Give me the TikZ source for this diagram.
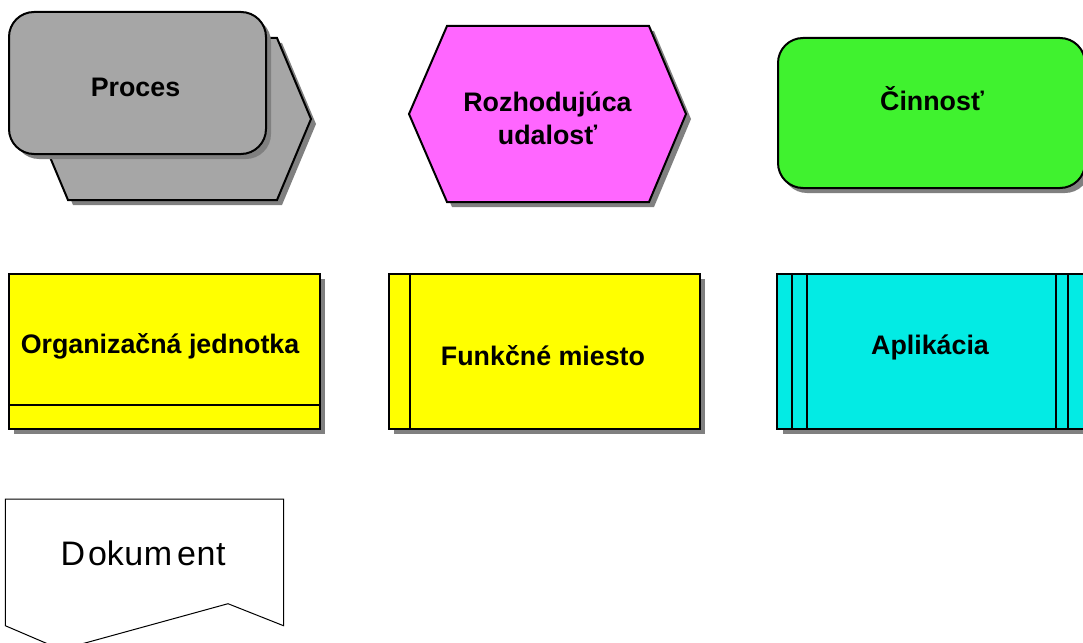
\documentclass[tikz,border=0pt]{standalone}
\usepackage{fontspec}
\setmainfont{Liberation Sans}
\tikzset{
  shape box/.style={draw=black,line width=2pt,line join=miter},
  shadow fill/.style={fill=shadowgray,draw=none},
  label text/.style={font=\fontsize{26.8}{33}\selectfont\bfseries,align=center,inner sep=0pt,text=black},
}
\definecolor{shadowgray}{HTML}{808080}
\definecolor{procgray}{HTML}{A6A6A6}
\definecolor{evmag}{HTML}{FF66FF}
\definecolor{actgreen}{HTML}{40F22F}
\definecolor{orgyellow}{HTML}{FFFF00}
\definecolor{appcyan}{HTML}{03EBE4}
\begin{document}
\begin{tikzpicture}[x=1pt,y=-1pt]
\useasboundingbox (0,0) rectangle (1083,642);
\fill[white] (0,0) rectangle (1083,642);
\clip (0,0) rectangle (1083,642);
% Proces
\fill[shadow fill] (73,43)--(282,43)--(316,124)--(282,205)--(73,205)--(39,124)--cycle;
\path[shape box,fill=procgray] (68,38)--(277,38)--(311,119)--(277,200)--(68,200)--(34,119)--cycle;
\fill[shadow fill,rounded corners=25pt] (14,17) rectangle (271,159);
\path[shape box,fill=procgray,rounded corners=25pt] (9,12) rectangle (266,154);
\node[label text] (proces) at (135.5,87) {Proces};
% Rozhodujuca udalost
\fill[shadow fill] (452,31)--(654,31)--(691,119)--(654,207)--(452,207)--(414,119)--cycle;
\path[shape box,fill=evmag] (447,26)--(649,26)--(686,114)--(649,202)--(447,202)--(409,114)--cycle;
\node[label text] (rozhod) at (547.5,118) {Rozhodujúca\\udalosť};
% Cinnost
\fill[shadow fill,rounded corners=25pt] (782,43) rectangle (1090,193);
\path[shape box,fill=actgreen,rounded corners=25pt] (778,38) rectangle (1085,188);
\node[label text] (cinnost) at (932,99) {Činnosť};
% Organizacna jednotka
\fill[shadow fill] (14,279) rectangle (325,434);
\path[shape box,fill=orgyellow] (9,274) rectangle (320,429);
\draw[shape box] (9,405) -- (320,405);
\node[label text] (org) at (160,346) {Organizačná jednotka};
% Funkcne miesto
\fill[shadow fill] (394,279) rectangle (705,434);
\path[shape box,fill=orgyellow] (389,274) rectangle (700,429);
\draw[shape box] (410,274) -- (410,429);
\node[label text] (funk) at (543,356) {Funkčné miesto};
% Aplikacia
\fill[shadow fill] (783,279) rectangle (1095,434);
\path[shape box,fill=appcyan] (777,274) rectangle (1090,429);
\draw[shape box] (792,274) -- (792,429);
\draw[shape box] (807,274) -- (807,429);
\draw[shape box] (1056,274) -- (1056,429);
\draw[shape box] (1068,274) -- (1068,429);
\node[label text] (apl) at (930,347) {Aplikácia};
% Dokument
\draw[black,line width=1pt,line join=miter] (5.3,499)--(283.5,499)--(283.5,625.7)--(228,603.7)--(61.1,649.6)--(5.3,625.7)--cycle;
\node[inner sep=0pt,font=\fontsize{34}{40}\selectfont] (dok) at (143,553) {D\kern3pt ok\kern0.5pt u\kern0.5pt m\kern5pt e\kern0.5pt n\kern0.5pt t};
\end{tikzpicture}
\end{document}
